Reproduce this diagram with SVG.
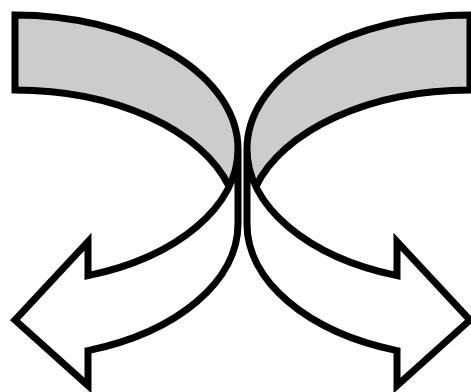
<svg xmlns="http://www.w3.org/2000/svg" xmlns:xlink="http://www.w3.org/1999/xlink" width="471" height="392" viewBox="0 0 471 392">
  <style>
    .front { fill: #ffffff; stroke: none; }
    .back { fill: #cccccc; stroke: none; }
    .outline { fill: none; stroke: #000000; stroke-width: 7; stroke-linejoin: miter; stroke-miterlimit: 10; }
  </style>
  <defs>
    <g id="curved-arrow">
      <path class="front" d="M238,149 A223,134 0 0 1 88,275.6 L88,241.6 L15,320 L88,385.6 L88,350.6 A223,134 0 0 0 238,224 Z"/>
      <path class="back" d="M15,90 A223,134 0 0 1 229.1,186.5 A223,134 0 0 0 15,15 Z"/>
      <path class="outline" d="M238,149 A223,134 0 0 1 88,275.6 L88,241.6 L15,320 L88,385.6 L88,350.6 A223,134 0 0 0 238,224 L238,149 A223,134 0 0 0 15,15 L15,90 A223,134 0 0 1 229.1,186.5"/>
    </g>
  </defs>
  <rect width="471" height="392" fill="#ffffff"/>
  <g id="left-arrow">
    <use xlink:href="#curved-arrow" href="#curved-arrow"/>
  </g>
  <g id="right-arrow" transform="matrix(-1 0 0 1 485 0)">
    <use xlink:href="#curved-arrow" href="#curved-arrow"/>
  </g>
</svg>
